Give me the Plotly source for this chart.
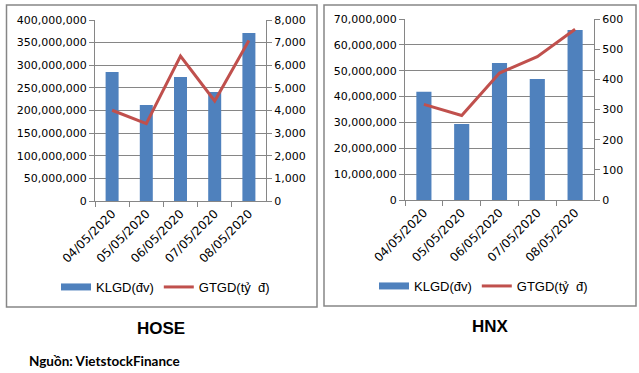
import plotly.graph_objects as go

dates = ["04/05/2020", "05/05/2020", "06/05/2020", "07/05/2020", "08/05/2020"]
hose_klgd = [285000000, 212000000, 274000000, 241000000, 371000000]
hose_gtgd = [4010, 3420, 6410, 4420, 7090]
hnx_klgd = [41900000, 29400000, 53000000, 46800000, 65700000]
hnx_gtgd = [317, 280, 421, 475, 566]

W, H = 639, 373
def px(x): return x / W
def py(y): return 1 - y / H

BLUE = "#4F81BD"
RED = "#C0504D"
GRAY = "#868686"
YFONT = dict(family="DejaVu Sans, Verdana, sans-serif", size=11, color="#000000")
XFONT = dict(family="DejaVu Sans, Verdana, sans-serif", size=12, color="#000000")

fig = go.Figure()
panels = [("x", "y", "y2", "legend", hose_klgd, hose_gtgd, 0.38),
          ("x2", "y3", "y4", "legend2", hnx_klgd, hnx_gtgd, 0.4)]
for xa, ya, ya2, leg, klgd, gtgd, bw in panels:
    fig.add_trace(go.Bar(x=dates, y=klgd, name="KLGD(đv)", marker_color=BLUE, width=bw,
                         xaxis=xa, yaxis=ya, showlegend=False))
    # legend entry drawn as a wide block like the original swatch
    fig.add_trace(go.Scatter(x=[None], y=[None], name="KLGD(đv)", mode="lines",
                             line=dict(color=BLUE, width=7), xaxis=xa, yaxis=ya, legend=leg,
                             hoverinfo="skip"))
    fig.add_trace(go.Scatter(x=dates, y=gtgd, name="GTGD(tỷ  đ)", mode="lines",
                             line=dict(color=RED, width=3), xaxis=xa, yaxis=ya2, legend=leg))

xcommon = dict(type="category", tickangle=-45, ticks="outside", ticklen=5, tickcolor=GRAY,
               tickson="boundaries", showline=True, linecolor=GRAY, linewidth=1,
               showgrid=False, tickfont=XFONT, zeroline=False, automargin=False)
ycommon = dict(ticks="outside", ticklen=5, tickcolor=GRAY, showline=True, linecolor=GRAY,
               linewidth=1, tickfont=YFONT, zeroline=False, tickformat=",d", automargin=False)

LEGFONT = dict(family="Liberation Sans, Arial, sans-serif", size=13, color="#000")

fig.update_layout(
    template="none",
    width=W, height=H, margin=dict(l=0, r=0, t=0, b=0, autoexpand=False),
    paper_bgcolor="white", plot_bgcolor="white", bargap=0.6,
    xaxis=dict(domain=[px(95), px(266)], anchor="y", **xcommon),
    yaxis=dict(domain=[py(201), py(20)], range=[0, 400000000], dtick=50000000,
               showgrid=True, gridcolor=GRAY, gridwidth=1, **ycommon),
    yaxis2=dict(overlaying="y", side="right", anchor="x", range=[0, 8000], dtick=1000,
                showgrid=False, **ycommon),
    xaxis2=dict(domain=[px(405), px(594)], anchor="y3", **xcommon),
    yaxis3=dict(domain=[py(200), py(19)], anchor="x2", range=[0, 70000000], dtick=10000000,
                showgrid=True, gridcolor=GRAY, gridwidth=1, **ycommon),
    yaxis4=dict(overlaying="y3", side="right", anchor="x2", range=[0, 600], dtick=100,
                showgrid=False, **ycommon),
    legend=dict(orientation="h", x=px(56), y=py(287), xanchor="left", yanchor="middle",
                bgcolor="rgba(0,0,0,0)", font=LEGFONT, itemwidth=30),
    legend2=dict(orientation="h", x=px(374), y=py(286), xanchor="left", yanchor="middle",
                 bgcolor="rgba(0,0,0,0)", font=LEGFONT, itemwidth=30),
    shapes=[
        dict(type="rect", xref="paper", yref="paper", x0=px(6.5), x1=px(317), y0=py(307), y1=py(5),
             line=dict(color=GRAY, width=1.5)),
        dict(type="rect", xref="paper", yref="paper", x0=px(324), x1=px(636), y0=py(306), y1=py(5),
             line=dict(color=GRAY, width=1.5)),
    ],
    annotations=[
        dict(text="<b>HOSE</b>", xref="paper", yref="paper", x=px(161), y=py(328),
             showarrow=False, xanchor="center", yanchor="middle",
             font=dict(family="Liberation Sans Narrow, Arial Narrow, Liberation Sans, sans-serif",
                       size=17, color="#000")),
        dict(text="<b>HNX</b>", xref="paper", yref="paper", x=px(490), y=py(326),
             showarrow=False, xanchor="center", yanchor="middle",
             font=dict(family="Liberation Sans Narrow, Arial Narrow, Liberation Sans, sans-serif",
                       size=17, color="#000")),
        dict(text="<b>Nguồn: VietstockFinance</b>", xref="paper", yref="paper", x=px(27), y=py(361),
             showarrow=False, xanchor="left", yanchor="middle",
             font=dict(family="Lato, Open Sans, sans-serif", size=13.5, color="#000")),
    ],
)

fig.write_html("out.html", config={"displayModeBar": False},
               post_script="document.body.style.margin='0px';document.body.style.overflow='hidden';")
